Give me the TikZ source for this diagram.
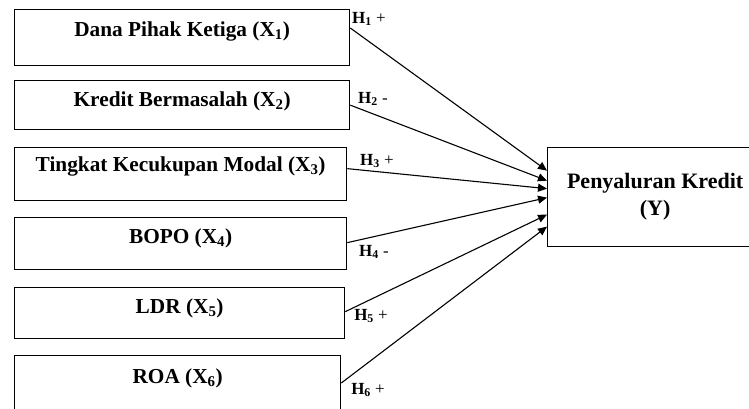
\documentclass[tikz,border=0pt]{standalone}
\usepackage{fontspec}
\setmainfont{Liberation Serif}
\usetikzlibrary{arrows.meta,calc}
\tikzset{
  var/.style={draw, line width=1.3pt, inner sep=0pt, anchor=north west,
    font=\fontsize{21.3}{24}\selectfont\bfseries},
  hyp/.style={font=\fontsize{17}{19}\selectfont, inner sep=0pt},
  conn/.style={line width=1.1pt, -{Triangle[length=9pt,width=8pt]}}
}
\begin{document}
\begin{tikzpicture}[x=1pt,y=-1pt]
\useasboundingbox (0,0) rectangle (749,409);
\node[var, minimum width=335pt, text height=27pt, text depth=29pt] (b1) at (14,9) {Dana Pihak Ketiga (X\textsubscript{1})};
\node[var, minimum width=335pt, text height=26pt, text depth=23pt] (b2) at (14,80) {Kredit Bermasalah (X\textsubscript{2})};
\node[var, minimum width=332pt, text height=24pt, text depth=29pt] (b3) at (14,147) {Tingkat Kecukupan Modal (X\textsubscript{3})};
\node[var, minimum width=332pt, text height=26pt, text depth=26pt] (b4) at (14,217) {BOPO (X\textsubscript{4})};
\node[var, minimum width=330pt, text height=26pt, text depth=25pt] (b5) at (14,287) {LDR (X\textsubscript{5})};
\node[var, minimum width=326pt, text height=28pt, text depth=40pt] (b6) at (14,355) {ROA (X\textsubscript{6})};
\node[var, minimum width=215pt, minimum height=99pt, align=center, font=\fontsize{22}{25}\selectfont\bfseries] (y) at (547,147) {Penyaluran Kredit\\[2pt](Y)};

\draw[conn] ($(b1.north east)+(0,19)$) -- ($(y.west)+(0,-26.5)$);
\draw[conn] (b2.east) -- ($(y.west)+(0,-16.5)$);
\draw[conn] ($(b3.east)+(0,-5.5)$) -- ($(y.west)+(0,-8.5)$);
\draw[conn] ($(b4.east)+(0,-1)$) -- ($(y.west)+(0,0.5)$);
\draw[conn] ($(b5.east)+(0,-1.5)$) -- ($(y.west)+(0,17.5)$);
\draw[conn] ($(b6.north east)+(0,28)$) -- ($(y.west)+(0,29.5)$);

\node[hyp] (h1) at (369,19) {\textbf{H\textsubscript{1}} +};
\node[hyp] (h2) at (373,99) {\textbf{H\textsubscript{2}} -};
\node[hyp] (h3) at (377,161) {\textbf{H\textsubscript{3}} +};
\node[hyp] (h4) at (374,252) {\textbf{H\textsubscript{4}} -};
\node[hyp] (h5) at (371,316) {\textbf{H\textsubscript{5}} +};
\node[hyp] (h6) at (368,390) {\textbf{H\textsubscript{6}} +};
\end{tikzpicture}
\end{document}
